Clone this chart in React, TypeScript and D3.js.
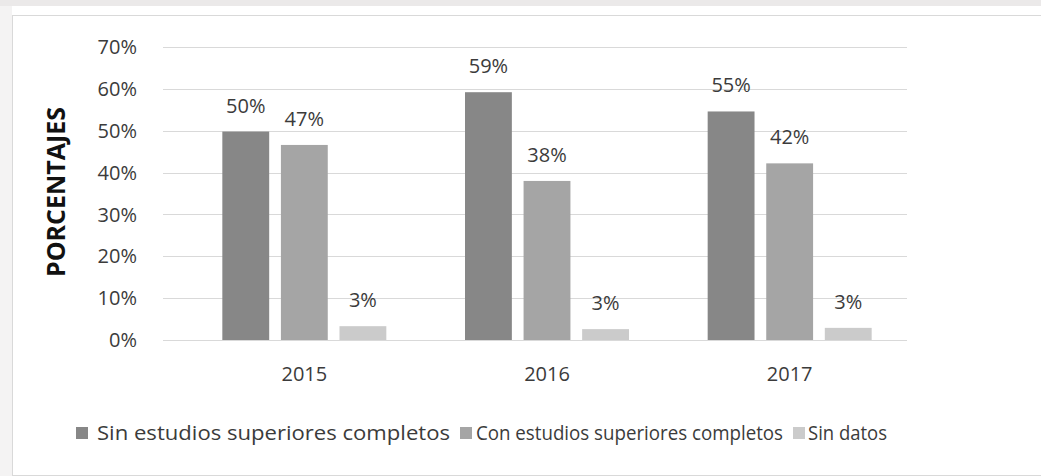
import React from "react";
import * as d3 from "d3";

const years = ["2015", "2016", "2017"];
const seriesNames = [
  "Sin estudios superiores completos",
  "Con estudios superiores completos",
  "Sin datos",
];
const sinEstudios = [49.8, 59.2, 54.6];
const conEstudios = [46.6, 38.0, 42.2];
const sinDatos = [3.3, 2.6, 2.9];
const yTicks = [0, 10, 20, 30, 40, 50, 60, 70];
const colors = ["#878787", "#a5a5a5", "#cbcbcb"];

const W = 1041;
const H = 476;

export default function App() {
  const series = [sinEstudios, conEstudios, sinDatos];
  const y = d3.scaleLinear().domain([0, 70]).range([340, 47]);
  const x = d3.scaleBand<string>().domain(years).range([183, 911]).padding(0);
  const inner = d3
    .scaleBand<string>()
    .domain(seriesNames)
    .range([-82, 82])
    .paddingInner(0.2)
    .paddingOuter(0);
  const gridX0 = 163;
  const gridX1 = 907;
  const font = "'Open Sans', sans-serif";
  const textColor = "#3b3b3b";

  // legend layout
  const legendFont = 20;
  const legendItems = [
    { sq: 76, tx: 97, len: 353 },
    { sq: 460, tx: 476, len: 307 },
    { sq: 793, tx: 808, len: 79 },
  ];

  return (
    <svg
      width={W}
      height={H}
      style={{ position: "absolute", left: 0, top: 0, display: "block" }}
    >
      <rect x={0} y={0} width={W} height={H} fill="#f4f3f3" />
      <rect x={12} y={6} width={W} height={10} fill="#ffffff" />
      <rect x={0} y={0} width={W} height={6} fill="#ebe9e9" />
      <rect x={12.5} y={15.5} width={W} height={460} fill="#ffffff" stroke="#d9d9d9" strokeWidth={1} />

      {/* gridlines */}
      {yTicks.map((t) => (
        <line
          key={t}
          x1={gridX0}
          x2={gridX1}
          y1={Math.round(y(t)) + 0.5}
          y2={Math.round(y(t)) + 0.5}
          stroke="#d9d9d9"
          strokeWidth={1}
        />
      ))}

      {/* y tick labels */}
      {yTicks.map((t) => (
        <text
          key={t}
          x={137}
          y={y(t)}
          dy="0.36em"
          textAnchor="end"
          fontFamily={font}
          fontSize={20}
          fill={textColor}
        >
          {t}%
        </text>
      ))}

      {/* y title */}
      <text
        transform={`translate(65,192) rotate(-90)`}
        textAnchor="middle"
        fontFamily={font}
        fontWeight="bold"
        fontSize={25}
        fill="#111"
      >
        PORCENTAJES
      </text>

      {/* bars */}
      {years.map((yr, i) => {
        const cx = (x(yr) as number) + x.bandwidth() / 2;
        return (
          <g key={yr}>
            {series.map((s, j) => {
              const bx = cx + (inner(seriesNames[j]) as number);
              const bw = inner.bandwidth();
              const v = s[i];
              return (
                <g key={j}>
                  <rect x={bx} y={y(v)} width={bw} height={y(0) - y(v)} fill={colors[j]} />
                  <text
                    x={bx + bw / 2}
                    y={y(v) - 19}
                    textAnchor="middle"
                    fontFamily={font}
                    fontSize={20}
                    fill={textColor}
                  >
                    {Math.round(v)}%
                  </text>
                </g>
              );
            })}
            <text
              x={cx}
              y={381}
              textAnchor="middle"
              fontFamily={font}
              fontSize={20}
              fill={textColor}
            >
              {yr}
            </text>
          </g>
        );
      })}

      {/* legend */}
      {seriesNames.map((n, j) => (
        <g key={n}>
          <rect x={legendItems[j].sq} y={427} width={12} height={12} fill={colors[j]} />
          <text
            x={legendItems[j].tx}
            y={440}
            fontFamily={font}
            fontSize={legendFont}
            fill={textColor}
            textLength={legendItems[j].len}
            lengthAdjust="spacingAndGlyphs"
          >
            {n}
          </text>
        </g>
      ))}
    </svg>
  );
}
